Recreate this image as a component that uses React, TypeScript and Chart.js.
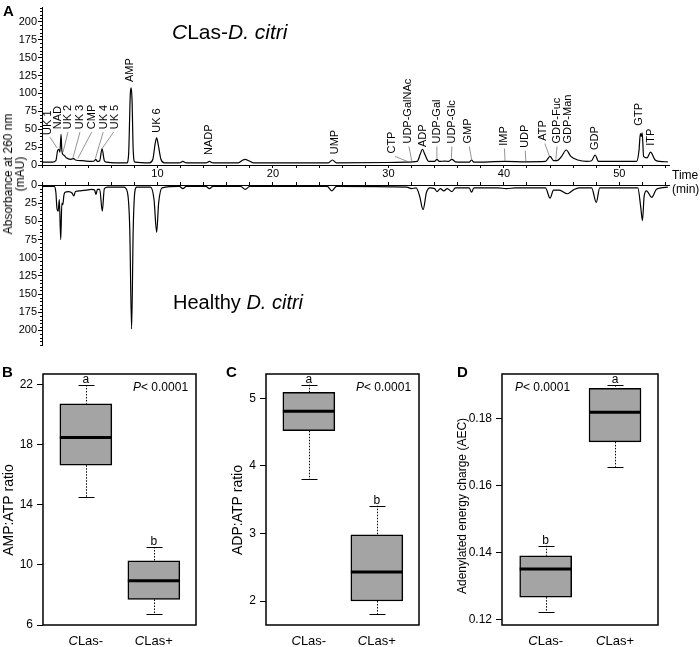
import React, { useEffect, useRef } from 'react';
import { Chart, registerables } from 'chart.js';

Chart.register(...registerables);

const FONT = '"Liberation Sans", Arial, Helvetica, sans-serif';

// ---------- Panel A: chromatograms (time in min, absorbance in mAU) ----------
const infTime = [0, 0.9, 1.2, 1.35, 1.45, 1.55, 1.65, 1.72, 1.85, 1.95, 2.1, 2.5, 2.75, 2.9, 3.5, 4.3, 4.55, 4.65, 4.8, 5.0, 5.2, 5.4, 5.6, 6.5, 7.35, 7.5, 7.65, 7.72, 7.8, 7.9, 8.05, 9.3, 9.6, 9.8, 9.93, 10.05, 10.3, 10.6, 11.9, 12.2, 12.5, 14.2, 14.5, 14.8, 17.0, 17.4, 17.6, 17.9, 18.3, 24.8, 25.15, 25.5, 30, 31.5, 32.5, 32.75, 32.95, 33.15, 33.5, 34.0, 34.2, 34.4, 34.9, 35.2, 35.5, 35.8, 37.0, 37.2, 37.4, 40.1, 41.9, 43.6, 44.0, 44.3, 44.6, 45.0, 45.4, 45.8, 46.4, 47.2, 47.6, 47.9, 48.2, 51.5, 51.7, 51.82, 51.9, 51.98, 52.1, 52.4, 52.7, 53.1, 53.5, 54.2];
const infAbs = [4, 4, 6, 20, 22, 18, 43, 20, 14, 13, 10, 8, 9, 7, 6, 5, 6, 8, 5, 6, 23, 6, 4, 3, 3, 15, 100, 108, 90, 20, 4, 3, 8, 30, 38, 30, 8, 3, 3, 5, 3, 3, 5, 3, 3, 7, 8, 6, 3, 3, 7, 3, 3.5, 4, 5, 15, 22, 15, 5, 5, 8, 5, 5.5, 5, 8, 4.5, 4, 7, 4, 5, 4.5, 5, 12, 6, 6, 12, 21, 12, 7, 5, 6, 14, 5, 5, 20, 44, 40, 45, 12, 10, 18, 7, 5, 4.5];

const hlyTime = [0, 1.05, 1.2, 1.3, 1.4, 1.5, 1.62, 1.72, 1.8, 1.9, 2.0, 2.3, 2.6, 2.75, 2.9, 3.3, 3.8, 4.3, 4.55, 4.68, 4.8, 5.0, 5.22, 5.4, 5.7, 7.1, 7.4, 7.6, 7.76, 7.9, 8.05, 8.2, 9.4, 9.7, 9.93, 10.1, 10.4, 11.9, 12.2, 12.5, 14.2, 14.5, 14.8, 17.2, 17.6, 18.0, 24.7, 25.1, 25.5, 31.6, 32.0, 32.4, 32.7, 33.0, 33.3, 33.6, 34.0, 34.2, 34.5, 34.8, 35.1, 35.5, 35.8, 37.0, 37.2, 37.4, 39.5, 40.2, 41.0, 43.6, 44.0, 44.3, 44.8, 45.5, 46.0, 46.5, 47.6, 48.0, 48.3, 51.6, 51.85, 52.0, 52.15, 52.35, 52.8, 53.2, 53.6, 54.2];
const hlyAbs = [2, 2, 10, 33, 36, 20, 75, 25, 27, 14, 10, 9, 11, 15, 9, 8, 7, 6, 7, 13, 6, 6, 36, 5, 3, 3, 10, 60, 198, 60, 8, 3, 3, 20, 65, 25, 4, 2, 5, 2, 2, 5, 2, 2, 6, 2, 2, 8, 2, 3, 5, 4, 15, 34, 10, 4, 5, 9, 5, 8, 5, 9, 4, 4, 10, 4, 4, 5, 4, 4, 18, 7, 7, 12, 7, 4, 4, 24, 4, 4, 30, 49, 15, 8, 17, 6, 4, 3];

const peakNames = ['UK 1', 'NAD', 'UK 2', 'UK 3', 'CMP', 'UK 4', 'UK 5', 'AMP', 'UK 6', 'NADP', 'UMP', 'CTP', 'UDP-GalNAc', 'ADP', 'UDP-Gal', 'UDP-Glc', 'GMP', 'IMP', 'UDP', 'ATP', 'GDP-Fuc', 'GDP-Man', 'GDP', 'GTP', 'ITP'];
// label centre (min) and foot of the rotated label (mAU)
const peakLabelTime = [0.52, 1.39, 2.25, 3.29, 4.33, 5.37, 6.32, 7.62, 9.96, 14.46, 25.37, 30.3, 31.7, 33.0, 34.2, 35.5, 36.9, 40.0, 41.8, 43.4, 44.6, 45.55, 47.9, 51.7, 52.7];
const peakLabelBase = [42, 50, 50, 50, 50, 50, 50, 116, 45, 14, 15, 16, 30, 25, 30, 30, 30, 27, 24, 34, 30, 30, 21, 55, 27];
// leader lines [t1, abs1, t2, abs2]
const peakLeaders: (number[] | null)[] = [
  [0.69, 39, 1.3, 24], null, [2.25, 46, 1.82, 18], [3.29, 46, 2.68, 10], [4.3, 46, 3.1, 9], [5.3, 46, 4.62, 9], [6.2, 46, 5.25, 24],
  null, null, null, null,
  [30.57, 12, 31.95, 3], [31.78, 26, 32.04, 4], null, [34.2, 26, 34.2, 9], [35.5, 26, 35.45, 9], [37.0, 26, 37.2, 8],
  [40.05, 23, 40.1, 6], [41.85, 20, 41.9, 5.5], [43.55, 30, 43.95, 12], [44.6, 26, 44.5, 7], null, null, null, null,
];

// ---------- Panels B-D: box plots ----------
const groups = ['CLas-', 'CLas+'];

const ampMin = [14.5, 6.7];
const ampQ1 = [16.65, 7.7];
const ampMed = [18.5, 8.95];
const ampQ3 = [20.75, 10.27];
const ampMax = [22.0, 11.2];
const ampLetters = ['a', 'b'];
const ampTicks = [6, 10, 14, 18, 22];

const adpMin = [3.8, 1.81];
const adpQ1 = [4.52, 2.0];
const adpMed = [4.81, 2.43];
const adpQ3 = [5.09, 2.98];
const adpMax = [5.2, 3.41];
const adpLetters = ['a', 'b'];
const adpTicks = [2, 3, 4, 5];

const aecMin = [0.1223, 0.1656];
const aecQ1 = [0.1268, 0.173];
const aecMed = [0.1352, 0.1818];
const aecQ3 = [0.1391, 0.1889];
const aecMax = [0.1421, 0.1899];
const aecLetters = ['b', 'a'];
const aecTicks = [0.12, 0.14, 0.16, 0.18];

const pText = '< 0.0001';

// ---------- plugins ----------
const minorTicks = {
  id: 'minorTicks',
  afterDraw(chart: any) {
    const { ctx, scales } = chart;
    const y = scales.y;
    ctx.save();
    ctx.strokeStyle = '#000';
    ctx.lineWidth = 1;
    for (let v = 5; v <= 220; v += 5) {
      if (v % 25 === 0) continue;
      const py = Math.round(y.getPixelForValue(v)) + 0.5;
      ctx.beginPath();
      ctx.moveTo(y.right - 2, py);
      ctx.lineTo(y.right, py);
      ctx.stroke();
    }
    ctx.restore();
  },
};

const peakLabels = {
  id: 'peakLabels',
  afterDatasetsDraw(chart: any) {
    const { ctx, scales } = chart;
    const x = scales.x;
    const y = scales.y;
    ctx.save();
    ctx.font = `11px ${FONT}`;
    ctx.fillStyle = '#000';
    peakNames.forEach((name, i) => {
      const px = x.getPixelForValue(peakLabelTime[i]);
      const py = y.getPixelForValue(peakLabelBase[i]);
      ctx.save();
      ctx.translate(px, py);
      ctx.rotate(-Math.PI / 2);
      ctx.textAlign = 'left';
      ctx.textBaseline = 'middle';
      ctx.fillText(name, 0, 0);
      ctx.restore();
      const l = peakLeaders[i];
      if (l) {
        ctx.strokeStyle = '#666';
        ctx.lineWidth = 0.7;
        ctx.beginPath();
        ctx.moveTo(x.getPixelForValue(l[0]), y.getPixelForValue(l[1]));
        ctx.lineTo(x.getPixelForValue(l[2]), y.getPixelForValue(l[3]));
        ctx.stroke();
      }
    });
    ctx.restore();
  },
};

function chromConfig(top: boolean) {
  const times = top ? infTime : hlyTime;
  const vals = top ? infAbs : hlyAbs;
  return {
    type: 'line',
    data: {
      datasets: [
        {
          data: times.map((t, i) => ({ x: t, y: vals[i] })),
          borderColor: '#000',
          borderWidth: 1.2,
          pointRadius: 0,
          cubicInterpolationMode: 'monotone',
          fill: false,
        },
      ],
    },
    options: {
      animation: false,
      responsive: false,
      events: [],
      layout: { padding: top ? { top: 5, right: 31, left: 0, bottom: 0 } : { top: 0, right: 31, left: 0, bottom: 9 } },
      plugins: { legend: { display: false }, tooltip: { enabled: false } },
      scales: {
        x: {
          type: 'linear',
          position: top ? 'bottom' : 'top',
          min: 0,
          max: 54.3,
          border: { display: true, color: '#000', width: 1 },
          grid: { drawOnChartArea: false, drawTicks: true, tickLength: 3, color: '#000' },
          ticks: {
            stepSize: 2,
            includeBounds: false,
            autoSkip: false,
            maxRotation: 0,
            padding: 1,
            color: '#000',
            font: { family: FONT, size: 11 },
            callback: (v: number) => (!top && v % 10 === 0 && v > 0 ? String(v) : ''),
          },
          afterFit: (s: any) => {
            s.height = top ? 11 : 17;
          },
        },
        y: {
          type: 'linear',
          min: 0,
          max: 220,
          reverse: !top,
          border: { display: true, color: '#000', width: 1 },
          grid: { drawOnChartArea: false, tickLength: 4, color: '#000' },
          ticks: { stepSize: 25, includeBounds: false, padding: 1, color: '#000', font: { family: FONT, size: 11 } },
          afterFit: (s: any) => {
            s.width = 42;
          },
        },
      },
    },
    plugins: top ? [minorTicks, peakLabels] : [minorTicks],
  };
}

interface BoxSpec {
  min: number[];
  q1: number[];
  med: number[];
  q3: number[];
  max: number[];
  letters: string[];
  ticks: number[];
  yMin: number;
  yMax: number;
  decimals: number;
  title: string;
  titleSize: number;
  titleX: number;
  titleY: number;
  yWidth: number;
  padRight: number;
  pX: number;
}

function boxConfig(s: BoxSpec) {
  const extras = {
    id: 'boxExtras',
    beforeDatasetsDraw(chart: any) {
      const { ctx, scales } = chart;
      const x = scales.x;
      const y = scales.y;
      ctx.save();
      ctx.strokeStyle = '#000';
      ctx.lineWidth = 1;
      groups.forEach((_, i) => {
        const cx = Math.round(x.getPixelForValue(i + 1)) + 0.5;
        ctx.setLineDash([1.5, 1.5]);
        ctx.beginPath();
        ctx.moveTo(cx, y.getPixelForValue(s.max[i]));
        ctx.lineTo(cx, y.getPixelForValue(s.q3[i]));
        ctx.moveTo(cx, y.getPixelForValue(s.q1[i]));
        ctx.lineTo(cx, y.getPixelForValue(s.min[i]));
        ctx.stroke();
        ctx.setLineDash([]);
        ctx.beginPath();
        [s.max[i], s.min[i]].forEach((v) => {
          const py = Math.round(y.getPixelForValue(v)) + 0.5;
          ctx.moveTo(cx - 8, py);
          ctx.lineTo(cx + 8, py);
        });
        ctx.stroke();
      });
      ctx.restore();
    },
    afterDatasetsDraw(chart: any) {
      const { ctx, scales, chartArea } = chart;
      const x = scales.x;
      const y = scales.y;
      const meta = chart.getDatasetMeta(0);
      ctx.save();
      // medians
      ctx.strokeStyle = '#000';
      ctx.lineWidth = 3;
      groups.forEach((_, i) => {
        const bar = meta.data[i];
        const half = bar.width / 2;
        const cx = x.getPixelForValue(i + 1);
        const py = y.getPixelForValue(s.med[i]);
        ctx.beginPath();
        ctx.moveTo(cx - half, py);
        ctx.lineTo(cx + half, py);
        ctx.stroke();
      });
      // frame
      ctx.lineWidth = 1.5;
      ctx.strokeRect(chartArea.left, chartArea.top, chartArea.right - chartArea.left, chartArea.bottom - chartArea.top);
      // significance letters
      ctx.fillStyle = '#000';
      ctx.font = `12px ${FONT}`;
      ctx.textAlign = 'center';
      ctx.textBaseline = 'alphabetic';
      groups.forEach((_, i) => {
        ctx.fillText(s.letters[i], x.getPixelForValue(i + 1), y.getPixelForValue(s.max[i]) - 2);
      });
      // P value
      ctx.textAlign = 'left';
      ctx.font = `italic 12px ${FONT}`;
      const px = chartArea.left + s.pX;
      const pyy = chartArea.top + 17;
      ctx.fillText('P', px, pyy);
      const wP = ctx.measureText('P').width;
      ctx.font = `12px ${FONT}`;
      ctx.fillText(pText, px + wP, pyy);
      // category labels with italic C
      groups.forEach((g, i) => {
        const rest = g.slice(1);
        ctx.font = `italic 13px ${FONT}`;
        const wc = ctx.measureText('C').width;
        ctx.font = `13px ${FONT}`;
        const wr = ctx.measureText(rest).width;
        const cx = x.getPixelForValue(i + 1);
        const lx = cx - (wc + wr) / 2;
        const ly = chartArea.bottom + 20;
        ctx.font = `italic 13px ${FONT}`;
        ctx.fillText('C', lx, ly);
        ctx.font = `13px ${FONT}`;
        ctx.fillText(rest, lx + wc, ly);
      });
      // y title
      ctx.save();
      ctx.translate(s.titleX, s.titleY);
      ctx.rotate(-Math.PI / 2);
      ctx.textAlign = 'center';
      ctx.textBaseline = 'middle';
      ctx.font = `${s.titleSize}px ${FONT}`;
      ctx.fillText(s.title, 0, 0);
      ctx.restore();
      ctx.restore();
    },
  };
  return {
    type: 'bar',
    data: {
      datasets: [
        {
          data: groups.map((_, i) => ({ x: i + 1, y: [s.q1[i], s.q3[i]] })),
          backgroundColor: '#a4a4a4',
          borderColor: '#000',
          borderWidth: 1.5,
          borderSkipped: false,
          barThickness: 52,
        },
      ],
    },
    options: {
      animation: false,
      responsive: false,
      events: [],
      layout: { padding: { top: 14, right: s.padRight, left: 0, bottom: 0 } },
      plugins: { legend: { display: false }, tooltip: { enabled: false } },
      scales: {
        x: {
          type: 'linear',
          min: 0.37,
          max: 2.62,
          offset: false,
          grid: { display: false },
          border: { display: false },
          ticks: { display: false },
          afterFit: (sc: any) => {
            sc.height = 22;
          },
        },
        y: {
          type: 'linear',
          min: s.yMin,
          max: s.yMax,
          border: { display: false },
          grid: { drawOnChartArea: false, tickLength: 6, color: '#000' },
          afterBuildTicks: (sc: any) => {
            sc.ticks = s.ticks.map((v) => ({ value: v }));
          },
          ticks: {
            padding: 4,
            color: '#000',
            font: { family: FONT, size: 12 },
            callback: (v: number) => Number(v).toFixed(s.decimals),
          },
          afterFit: (sc: any) => {
            sc.width = s.yWidth;
          },
        },
      },
    },
    plugins: [extras],
  };
}

function ChartCanvas({ left, top, width, height, make }: { left: number; top: number; width: number; height: number; make: () => any }) {
  const ref = useRef<HTMLCanvasElement>(null);
  useEffect(() => {
    const chart = new Chart(ref.current as HTMLCanvasElement, make());
    return () => chart.destroy();
  }, []);
  return <canvas ref={ref} width={width} height={height} style={{ position: 'absolute', left, top, width, height }} />;
}

const txt = (extra: React.CSSProperties): React.CSSProperties => ({
  position: 'absolute',
  fontFamily: FONT,
  color: '#000',
  whiteSpace: 'nowrap',
  lineHeight: 1,
  ...extra,
});

export default function App() {
  return (
    <div style={{ position: 'absolute', left: 0, top: 0, width: 700, height: 647, background: '#fff', overflow: 'hidden' }}>
      <ChartCanvas left={0} top={0} width={700} height={176} make={() => chromConfig(true)} />
      <ChartCanvas left={0} top={168} width={700} height={186} make={() => chromConfig(false)} />
      <ChartCanvas
        left={0}
        top={360}
        width={226}
        height={287}
        make={() =>
          boxConfig({ min: ampMin, q1: ampQ1, med: ampMed, q3: ampQ3, max: ampMax, letters: ampLetters, ticks: ampTicks, yMin: 6, yMax: 22.73, decimals: 0, title: 'AMP:ATP ratio', titleSize: 14, titleX: 9, titleY: 150, yWidth: 43, padRight: 30, pX: 90 })
        }
      />
      <ChartCanvas
        left={226}
        top={360}
        width={226}
        height={287}
        make={() =>
          boxConfig({ min: adpMin, q1: adpQ1, med: adpMed, q3: adpQ3, max: adpMax, letters: adpLetters, ticks: adpTicks, yMin: 1.645, yMax: 5.36, decimals: 0, title: 'ADP:ATP ratio', titleSize: 14, titleX: 12, titleY: 150, yWidth: 40, padRight: 33, pX: 90 })
        }
      />
      <ChartCanvas
        left={455}
        top={360}
        width={245}
        height={287}
        make={() =>
          boxConfig({ min: aecMin, q1: aecQ1, med: aecMed, q3: aecQ3, max: aecMax, letters: aecLetters, ticks: aecTicks, yMin: 0.1185, yMax: 0.1932, decimals: 2, title: 'Adenylated energy charge (AEC)', titleSize: 12, titleX: 8, titleY: 146, yWidth: 47, padRight: 42, pX: 13 })
        }
      />
      <div style={txt({ left: 3, top: 3, fontSize: 15, fontWeight: 'bold' })}>A</div>
      <div style={txt({ left: 2, top: 364, fontSize: 15, fontWeight: 'bold' })}>B</div>
      <div style={txt({ left: 226, top: 364, fontSize: 15, fontWeight: 'bold' })}>C</div>
      <div style={txt({ left: 457, top: 364, fontSize: 15, fontWeight: 'bold' })}>D</div>
      <div style={txt({ left: 172, top: 21, fontSize: 21 })}>
        <i>C</i>Las-<i>D. citri</i>
      </div>
      <div style={txt({ left: 173, top: 292, fontSize: 20 })}>
        Healthy <i>D. citri</i>
      </div>
      <div
        style={txt({ left: 14, top: 174, fontSize: 12, lineHeight: '12px', textAlign: 'center', transform: 'translate(-50%, -50%) rotate(-90deg)' })}
      >
        Absorbance at 260 nm
        <br />
        (mAU)
      </div>
      <div style={txt({ left: 672, top: 168, fontSize: 12, lineHeight: '14px' })}>
        Time
        <br />
        (min)
      </div>
    </div>
  );
}
